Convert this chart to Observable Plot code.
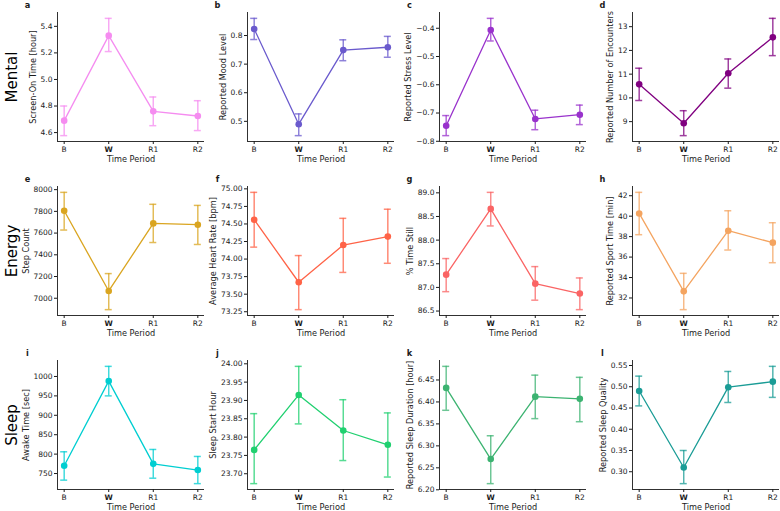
<!DOCTYPE html>
<html><head><meta charset="utf-8">
<script src="https://cdn.jsdelivr.net/npm/d3@7"></script>
<script src="https://cdn.jsdelivr.net/npm/@observablehq/plot@0.6"></script>
<style>
body{margin:0;background:#fff;}
#fig{position:relative;width:780px;height:511px;overflow:hidden;font-family:"DejaVu Sans",sans-serif;}
#fig svg{position:absolute;}
</style></head><body><div id="fig"></div>
<script>
// ---- data ----
const periods = ["B", "W", "R1", "R2"];
const emphasizedPeriod = "W";
const xLabel = "Time Period";
const groups = ["Mental", "Energy", "Sleep"];
const panelLetters = ["a","b","c","d","e","f","g","h","i","j","k","l"];
const yLabels = [
  "Screen-On Time [hour]", "Reported Mood Level", "Reported Stress Level", "Reported Number of Encounters",
  "Step Count", "Average Heart Rate [bpm]", "% Time Still", "Reported Sport Time [min]",
  "Awake Time [sec]", "Sleep Start Hour", "Reported Sleep Duration [hour]", "Reported Sleep Quality"
];
const colors = [
  "#f58cf0", "#6a5acd", "#9932cc", "#800080",
  "#daa520", "#ff6347", "#fa6464", "#f4a460",
  "#00ced1", "#20d070", "#3cb371", "#1a9c96"
];
const means = [
  [4.69, 5.33, 4.76, 4.725],
  [0.823, 0.490, 0.749, 0.759],
  [-0.745, -0.406, -0.721, -0.706],
  [10.57, 8.93, 11.04, 12.55],
  [7806, 7067, 7689, 7677],
  [74.56, 73.67, 74.20, 74.32],
  [87.27, 88.66, 87.08, 86.87],
  [40.27, 32.65, 38.58, 37.41],
  [770, 988, 775, 759],
  [23.765, 23.915, 23.818, 23.779],
  [6.432, 6.270, 6.412, 6.407],
  [0.490, 0.310, 0.499, 0.512]
];
const lows = [
  [4.577, 5.21, 4.652, 4.615],
  [0.786, 0.450, 0.712, 0.724],
  [-0.780, -0.445, -0.759, -0.741],
  [9.89, 8.41, 10.41, 11.78],
  [7628, 6895, 7513, 7495],
  [74.17, 73.28, 73.81, 73.94],
  [86.91, 88.30, 86.73, 86.53],
  [38.19, 30.86, 36.69, 35.45],
  [733, 950, 738, 724],
  [23.673, 23.836, 23.736, 23.691],
  [6.381, 6.214, 6.362, 6.355],
  [0.455, 0.272, 0.463, 0.475]
];
const highs = [
  [4.80, 5.46, 4.868, 4.84],
  [0.860, 0.526, 0.785, 0.797],
  [-0.709, -0.365, -0.690, -0.672],
  [11.25, 9.46, 11.64, 13.35],
  [7975, 7227, 7865, 7855],
  [74.95, 74.05, 74.58, 74.71],
  [87.61, 89.01, 87.44, 87.20],
  [42.33, 34.41, 40.53, 39.36],
  [806, 1026, 812, 794],
  [23.864, 23.993, 23.902, 23.866],
  [6.481, 6.323, 6.461, 6.456],
  [0.525, 0.350, 0.536, 0.548]
];
const yTickLabels = [
  ["4.6","4.8","5.0","5.2","5.4"],
  ["0.5","0.6","0.7","0.8"],
  ["\u22120.8","\u22120.7","\u22120.6","\u22120.5","\u22120.4"],
  ["9","10","11","12","13"],
  ["7000","7200","7400","7600","7800","8000"],
  ["73.25","73.50","73.75","74.00","74.25","74.50","74.75","75.00"],
  ["86.5","87.0","87.5","88.0","88.5","89.0"],
  ["32","34","36","38","40","42"],
  ["750","800","850","900","950","1000"],
  ["23.70","23.75","23.80","23.85","23.90","23.95","24.00"],
  ["6.20","6.25","6.30","6.35","6.40","6.45"],
  ["0.30","0.35","0.40","0.45","0.50","0.55"]
];

// ---- layout ----
const colX = [57, 247, 439, 632];
const rowY = [12, 186, 360];
const PW = 147, PH = 129;
const ML = 57, MR = 10, MT = 12, MB = 30;
const tickFont = 7.5, labelFont = 8.2;
const ink = "#1a1a1a";
const xPad = 0.15;

const ctx = document.createElement("canvas").getContext("2d");
ctx.font = `${tickFont}px "DejaVu Sans"`;

const fig = document.getElementById("fig");
panelLetters.forEach((letter, p) => {
  const r = Math.floor(p / 4), c = p % 4;
  const color = colors[p];
  const data = periods.map((d, i) => ({i, period: d, mean: means[p][i], lo: lows[p][i], hi: highs[p][i]}));
  const mn = d3.min(lows[p]), mx = d3.max(highs[p]);
  const pad = 0.05 * (mx - mn);
  const yDom = [mn - pad, mx + pad];
  const xDom = [-xPad, periods.length - 1 + xPad];
  const ticks = yTickLabels[p].map(s => +s.replace("\u2212", "-"));
  const fmt = new Map(ticks.map((t, k) => [t, yTickLabels[p][k]]));
  const maxW = d3.max(yTickLabels[p], s => ctx.measureText(s).width);
  const idx = periods.map((d, i) => i);
  const plainIdx = idx.filter(i => periods[i] !== emphasizedPeriod);
  const boldIdx = idx.filter(i => periods[i] === emphasizedPeriod);
  const marks = [
    Plot.ruleY([yDom[0]], {stroke: ink, strokeWidth: 0.9}),
    Plot.ruleX([xDom[0]], {stroke: ink, strokeWidth: 0.9}),
    Plot.axisY(ticks, {tickSize: 3, tickPadding: 2, tickFormat: t => fmt.get(t), fontSize: tickFont, label: null, stroke: ink, fill: ink}),
    Plot.axisX(plainIdx, {tickSize: 3, tickPadding: 2, tickFormat: i => periods[i], fontSize: tickFont, label: null, stroke: ink, fill: ink}),
    Plot.axisX(boldIdx, {tickSize: 3, tickPadding: 2, tickFormat: i => periods[i], fontSize: tickFont, fontWeight: "bold", label: null, stroke: ink, fill: ink}),
    Plot.ruleX(data, {x: "i", y1: "lo", y2: "hi", stroke: color, strokeOpacity: 0.75, strokeWidth: 1.5}),
    Plot.ruleY(data, {x1: "i", x2: "i", y: "lo", insetLeft: -3.5, insetRight: -3.5, stroke: color, strokeOpacity: 0.75, strokeWidth: 1.5}),
    Plot.ruleY(data, {x1: "i", x2: "i", y: "hi", insetLeft: -3.5, insetRight: -3.5, stroke: color, strokeOpacity: 0.75, strokeWidth: 1.5}),
    Plot.line(data, {x: "i", y: "mean", stroke: color, strokeWidth: 1.3}),
    Plot.dot(data, {x: "i", y: "mean", fill: color, r: 3.3}),
    Plot.text([xLabel], {frameAnchor: "bottom", textAnchor: "middle", lineAnchor: "middle", dy: 17.5, fontSize: labelFont, fill: ink}),
    Plot.text([yLabels[p]], {frameAnchor: "left", textAnchor: "middle", lineAnchor: "middle", dx: -(maxW + 12.5), rotate: -90, fontSize: labelFont, fill: ink}),
    Plot.text([letter], {frameAnchor: "top-left", textAnchor: "middle", lineAnchor: "middle", dx: -30, dy: -7, fontSize: labelFont, fontWeight: "bold", fill: ink})
  ];
  if (c === 0) {
    marks.push(Plot.text([groups[r]], {frameAnchor: "left", textAnchor: "middle", lineAnchor: "middle", dx: -45, rotate: -90, fontSize: 15, fill: "#000"}));
  }
  const chart = Plot.plot({
    width: ML + PW + MR, height: MT + PH + MB,
    marginLeft: ML, marginRight: MR, marginTop: MT, marginBottom: MB,
    style: {background: "none", overflow: "visible", fontFamily: "DejaVu Sans, sans-serif", color: ink},
    x: {type: "linear", domain: xDom, axis: null},
    y: {type: "linear", domain: yDom, axis: null},
    marks
  });
  chart.style.left = (colX[c] - ML) + "px";
  chart.style.top = (rowY[r] - MT) + "px";
  fig.appendChild(chart);
});
</script></body></html>
